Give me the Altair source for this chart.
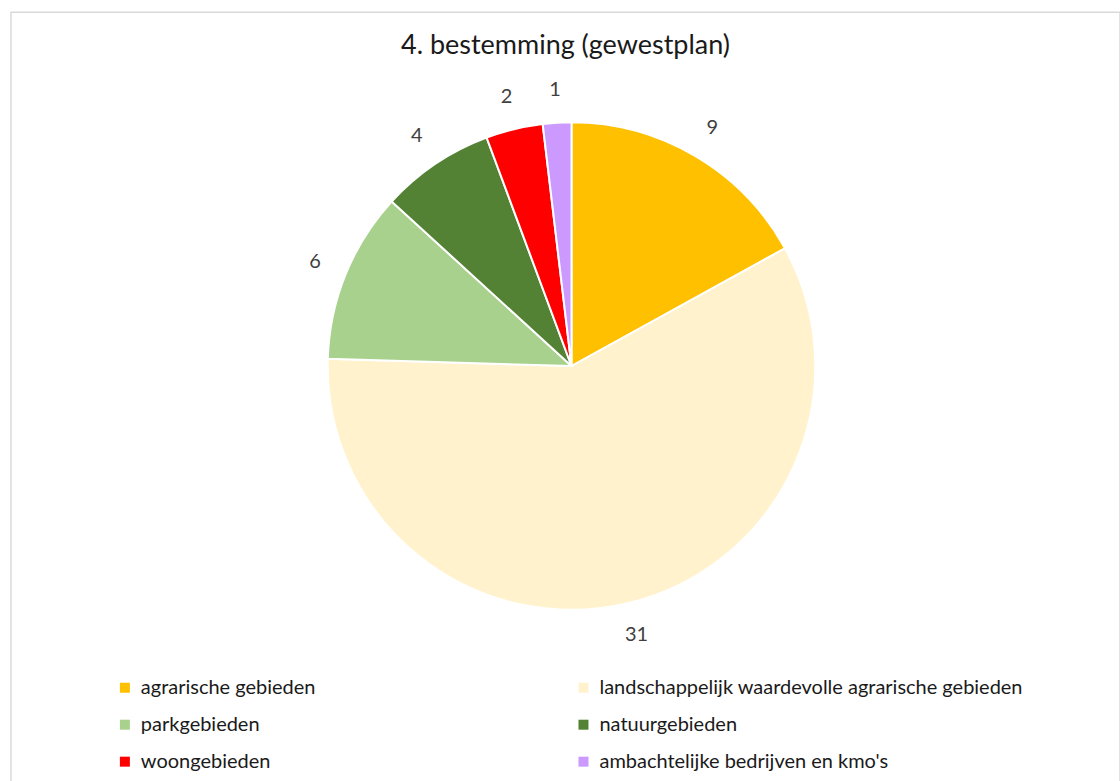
import altair as alt
import pandas as pd

categories = [
    "agrarische gebieden",
    "landschappelijk waardevolle agrarische gebieden",
    "parkgebieden",
    "natuurgebieden",
    "woongebieden",
    "ambachtelijke bedrijven en kmo's",
]
values = [9, 31, 6, 4, 2, 1]
colors = ["#FFC000", "#FFF2CC", "#A9D18E", "#548235", "#FF0000", "#CC99FF"]
order = list(range(len(categories)))

df = pd.DataFrame({"cat": categories, "val": values, "ord": order})

FONT = "Lato"
cx, cy = 561, 354

base = alt.Chart(df).encode(
    theta=alt.Theta("val:Q", stack=True),
    order=alt.Order("ord:Q", sort="ascending"),
    x=alt.value(cx),
    y=alt.value(cy),
)

pie = base.mark_arc(radius=244, stroke="white", strokeWidth=2).encode(
    color=alt.Color(
        "cat:N",
        scale=alt.Scale(domain=categories, range=colors),
        sort=categories,
        legend=alt.Legend(
            title=None,
            orient="none",
            direction="horizontal",
            legendX=104,
            legendY=666,
            columns=2,
            columnPadding=258,
            rowPadding=17,
            symbolType="square",
            symbolSize=100,
            symbolStrokeWidth=0,
            labelFont=FONT,
            labelFontSize=20,
            labelColor="#1a1a1a",
            labelLimit=600,
            symbolOffset=0,
            labelOffset=6,
        ),
    )
)

labels = base.mark_text(radius=277, font=FONT, fontSize=20, color="#404040").encode(
    text=alt.Text("val:Q")
)

chart = (
    (pie + labels)
    .properties(
        width=1110,
        height=770,
        padding={"left": 11, "top": 12, "right": 0, "bottom": 0},
        autosize=alt.AutoSizeParams(type="none"),
        title=alt.TitleParams(
            "4. bestemming (gewestplan)",
            font=FONT,
            fontSize=27,
            fontWeight="normal",
            color="#1a1a1a",
            anchor="middle",
            offset=-48,
        ),
        background="white",
    )
    .configure_view(stroke="#d9d9d9", strokeWidth=1.5)
)

chart.save("out.html", embed_options={"renderer": "svg", "actions": False})
